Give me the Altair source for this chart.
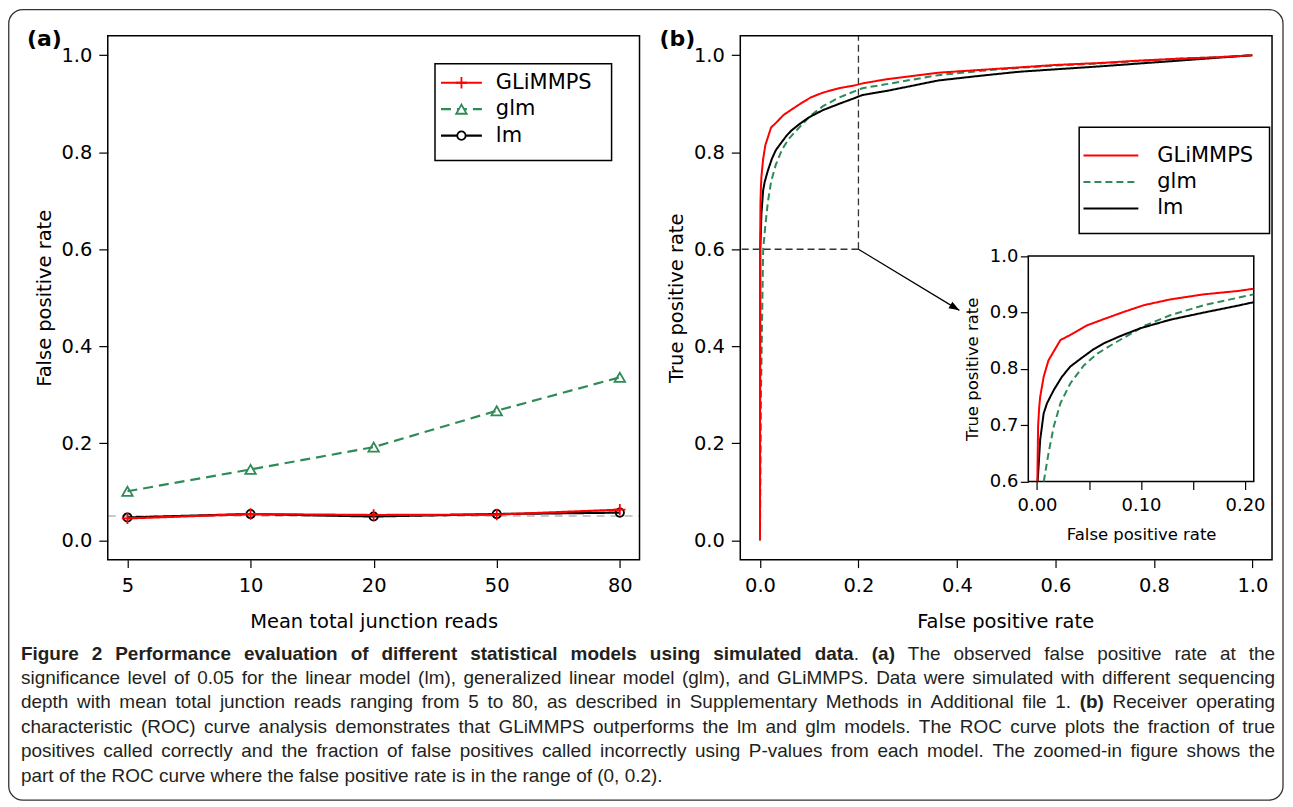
import altair as alt
import pandas as pd

# ------------------------------------------------------------------ data
reads = ["5", "10", "20", "50", "80"]
models = ["GLiMMPS", "glm", "lm"]
fpr_glimmps = [0.045, 0.054, 0.052, 0.053, 0.063]
fpr_glm = [0.101, 0.146, 0.192, 0.267, 0.336]
fpr_lm = [0.047, 0.054, 0.049, 0.054, 0.057]
significance_level = [0.05]

roc_glimmps_fpr = [0.0, 0.0, 0.0003, 0.001, 0.002, 0.003, 0.0064, 0.011, 0.0177, 0.0225,
                   0.032, 0.048, 0.064, 0.0835, 0.103, 0.128, 0.16, 0.193, 0.208, 0.26,
                   0.362, 0.45, 0.526, 0.6, 0.689, 0.77, 0.852, 0.93, 1.0]
roc_glimmps_tpr = [0.0, 0.3, 0.6, 0.697, 0.73, 0.75, 0.786, 0.815, 0.836, 0.851,
                   0.86, 0.877, 0.888, 0.901, 0.913, 0.923, 0.932, 0.938, 0.942, 0.951,
                   0.964, 0.970, 0.975, 0.980, 0.984, 0.989, 0.993, 0.996, 1.0]
roc_lm_fpr = [0.0, 0.0003, 0.0006, 0.003, 0.0064, 0.0096, 0.016, 0.024, 0.032, 0.042,
              0.0546, 0.064, 0.08, 0.0995, 0.128, 0.161, 0.193, 0.208, 0.26, 0.362,
              0.45, 0.526, 0.6, 0.689, 0.77, 0.852, 0.93, 1.0]
roc_lm_tpr = [0.0, 0.3, 0.6, 0.674, 0.721, 0.739, 0.762, 0.786, 0.804, 0.818,
              0.835, 0.845, 0.858, 0.872, 0.887, 0.9, 0.912, 0.918, 0.927, 0.948,
              0.958, 0.966, 0.971, 0.977, 0.983, 0.989, 0.995, 1.0]
roc_glm_fpr = [0.0, 0.002, 0.0065, 0.011, 0.016, 0.0225, 0.032, 0.045, 0.058, 0.074,
               0.09, 0.103, 0.128, 0.161, 0.193, 0.208, 0.26, 0.362, 0.45, 0.526,
               0.6, 0.689, 0.77, 0.852, 0.93, 1.0]
roc_glm_tpr = [0.0, 0.3, 0.6, 0.65, 0.697, 0.739, 0.774, 0.806, 0.827, 0.845,
               0.862, 0.876, 0.895, 0.913, 0.926, 0.932, 0.941, 0.959, 0.968, 0.974,
               0.979, 0.983, 0.988, 0.993, 0.996, 1.0]

zoom_fpr = [0.2]
zoom_tpr = [0.6]
arrow_fpr = [0.2, 0.405]
arrow_tpr = [0.6, 0.474]

prob_ticks = [0.0, 0.2, 0.4, 0.6, 0.8, 1.0]
inset_x_ticks = [0.0, 0.05, 0.10, 0.15, 0.20]
inset_y_ticks = [0.6, 0.7, 0.8, 0.9, 1.0]
main_domain = [-0.04, 1.04]
inset_x_domain = [-0.0084, 0.2084]
inset_y_domain = [0.6, 1.0]

# caption: (text, bold, glued-to-previous)
caption_lines = [
    [("Figure 2 Performance evaluation of different statistical models using simulated data", True, False),
     (".", False, True), ("(a)", True, False), ("The observed false positive rate at the", False, False)],
    [("significance level of 0.05 for the linear model (lm), generalized linear model (glm), and GLiMMPS. Data were simulated with different sequencing", False, False)],
    [("depth with mean total junction reads ranging from 5 to 80, as described in Supplementary Methods in Additional file 1.", False, False),
     ("(b)", True, False), ("Receiver operating", False, False)],
    [("characteristic (ROC) curve analysis demonstrates that GLiMMPS outperforms the lm and glm models. The ROC curve plots the fraction of true", False, False)],
    [("positives called correctly and the fraction of false positives called incorrectly using P-values from each model. The zoomed-in figure shows the", False, False)],
    [("part of the ROC curve where the false positive rate is in the range of (0, 0.2).", False, False)],
]
caption_justified = [True, True, True, True, True, False]

# ------------------------------------------------------------------ tables
df_a = pd.DataFrame({
    "reads": reads * 3,
    "fpr": fpr_glimmps + fpr_glm + fpr_lm,
    "model": [m for m in models for _ in reads],
})
df_sig = pd.DataFrame({"sig": significance_level})
roc_src = {"GLiMMPS": (roc_glimmps_fpr, roc_glimmps_tpr),
           "glm": (roc_glm_fpr, roc_glm_tpr),
           "lm": (roc_lm_fpr, roc_lm_tpr)}
rows = []
for m, (fs, ts) in roc_src.items():
    for i, (f, t) in enumerate(zip(fs, ts)):
        rows.append({"model": m, "fpr": f, "tpr": t, "order": i})
df_roc = pd.DataFrame(rows)
df_zoom = pd.DataFrame({"fpr": zoom_fpr, "tpr": zoom_tpr})
df_arrow = pd.DataFrame({"fpr": arrow_fpr[:1], "tpr": arrow_tpr[:1],
                         "fpr2": arrow_fpr[1:], "tpr2": arrow_tpr[1:]})
df_tip = pd.DataFrame({"fpr": arrow_fpr[1:], "tpr": arrow_tpr[1:]})
df_leg = pd.DataFrame({"model": models})
one = pd.DataFrame({"k": [0]})

# ------------------------------------------------------------------ layout / style
W, H = 1280, 796
AX0, AX1 = 100, 633
BX0, BX1 = 734, 1267
PY0, PY1 = 27, 552
IX0, IX1, IY0, IY1 = 1022.7, 1248.7, 247.7, 473.7
PF = "DejaVu Sans"
CF = "Liberation Sans"
PLUS = "M-1,0L1,0M0,-1L0,1"
ARROW = "M0,0L-2,-0.72L-2,0.72Z"
STY = {
    "GLiMMPS": dict(color="#ff0000", dash=[1, 0], shape=PLUS, size=130),
    "glm": dict(color="#2e8b57", dash=[10, 6], shape="triangle-up", size=110),
    "lm": dict(color="#000000", dash=[1, 0], shape="circle", size=70),
}


def axis(orient, offset, title, tx, ty, values=None, fmt=None, label_expr=None,
         lsize=19.5, tsize=19.5, tick=9, lpad=7, angle=0):
    kw = dict(orient=orient, offset=offset, title=title, titleX=tx, titleY=ty,
              domain=False, grid=False, ticks=True, tickSize=tick, tickWidth=1.2,
              tickColor="black", labelColor="black", labelFont=PF, labelFontSize=lsize,
              labelPadding=lpad, labelFlush=False, labelOverlap=False, labelAngle=0,
              titleFont=PF, titleFontSize=tsize, titleFontWeight="normal", titleColor="black",
              titleAlign="center", titleBaseline="middle", titleAngle=angle, zindex=1)
    if values is not None:
        kw["values"] = values
    if fmt:
        kw["format"] = fmt
    if label_expr:
        kw["labelExpr"] = label_expr
    return alt.Axis(**kw)


def box(x0, x1, y0, y1, fill=False, width=1.5, radius=0, color="black"):
    kw = dict(stroke=color, strokeWidth=width)
    if fill:
        kw["fill"] = "white"
    else:
        kw["fillOpacity"] = 0
    if radius:
        kw["cornerRadius"] = radius
    return alt.Chart(one).mark_rect(**kw).encode(
        x=alt.value(x0), x2=alt.value(x1), y=alt.value(y0), y2=alt.value(y1))


def text(s, x, y, size, font=PF, weight="normal", align="left", color="black"):
    return alt.Chart(one).mark_text(text=s, font=font, fontSize=size, fontWeight=weight,
                                    align=align, baseline="middle", color=color).encode(
        x=alt.value(x), y=alt.value(y))


# ------------------------------------------------------------------ panel (a)
xa = alt.Scale(type="point", domain=reads, range=[AX0, AX1], padding=0.16)
ya = alt.Scale(domain=main_domain, range=[PY1, PY0], nice=False, zero=False)
ax_a_x = axis("bottom", PY1 - H, "Mean total junction reads", 366.5, 61.7, tick=8, lpad=9)
ax_a_y = axis("left", -AX0, "False positive rate", 37 - AX0, (PY0 + PY1) / 2,
              values=prob_ticks, fmt=".1f", angle=270)
X_A = alt.X("reads:O", scale=xa, axis=ax_a_x, sort=reads)
Y_A = alt.Y("fpr:Q", scale=ya, axis=ax_a_y)

a_layers = [
    alt.Chart(df_sig).mark_rule(color="#b8b8b8", strokeDash=[8, 6], strokeWidth=1.6).encode(
        y=alt.Y("sig:Q", scale=ya, axis=ax_a_y), x=alt.value(AX0), x2=alt.value(AX1))
]
for m in ["lm", "glm", "GLiMMPS"]:
    s = STY[m]
    base = alt.Chart(df_a).transform_filter(alt.datum.model == m)
    a_layers.append(base.mark_line(color=s["color"], strokeWidth=2.2, strokeDash=s["dash"]).encode(
        x=X_A, y=Y_A))
    a_layers.append(base.mark_point(shape=s["shape"], size=s["size"], color=s["color"],
                                    filled=False, strokeWidth=1.8, opacity=1).encode(x=X_A, y=Y_A))
panel_a = alt.layer(*a_layers, box(AX0, AX1, PY0, PY1))

# legend (a)
yla = alt.Scale(type="point", domain=models, range=[74, 127], padding=0)
Y_LA = alt.Y("model:N", scale=yla, axis=None)
la_layers = [box(428, 605, 55, 152)]
for m in models:
    s = STY[m]
    base = alt.Chart(df_leg).transform_filter(alt.datum.model == m)
    la_layers.append(base.mark_rule(color=s["color"], strokeWidth=2.2, strokeDash=s["dash"]).encode(
        x=alt.value(434), x2=alt.value(475), y=Y_LA))
    la_layers.append(base.mark_point(shape=s["shape"], size=s["size"], color=s["color"], fill="white",
                                     filled=False, strokeWidth=1.8, opacity=1).encode(
        x=alt.value(454.5), y=Y_LA))
la_layers.append(alt.Chart(df_leg).mark_text(font=PF, fontSize=21, align="left", baseline="middle",
                                             color="black").encode(
    x=alt.value(489), y=Y_LA, text="model:N"))
legend_a = alt.layer(*la_layers)

# ------------------------------------------------------------------ panel (b)
xb = alt.Scale(domain=main_domain, range=[BX0, BX1], nice=False, zero=False)
yb = alt.Scale(domain=main_domain, range=[PY1, PY0], nice=False, zero=False)
ax_b_x = axis("bottom", PY1 - H, "False positive rate", 999.5, 61.7, values=prob_ticks,
              fmt=".1f", tick=8, lpad=9)
ax_b_y = axis("left", -BX0, "True positive rate", -64, (PY0 + PY1) / 2,
              values=prob_ticks, fmt=".1f", angle=270)
X_B = alt.X("fpr:Q", scale=xb, axis=ax_b_x)
Y_B = alt.Y("tpr:Q", scale=yb, axis=ax_b_y)

b_layers = [
    alt.Chart(df_zoom).mark_rule(color="#333333", strokeDash=[7, 4], strokeWidth=1.3).encode(
        x=X_B, y=Y_B, y2=alt.value(PY0)),
    alt.Chart(df_zoom).mark_rule(color="#333333", strokeDash=[7, 4], strokeWidth=1.3).encode(
        x=X_B, y=Y_B, x2=alt.value(BX0)),
    alt.Chart(df_arrow).mark_rule(color="black", strokeWidth=1.2).encode(
        x=X_B, y=Y_B, x2="fpr2:Q", y2="tpr2:Q"),
    alt.Chart(df_tip).mark_point(shape=ARROW, size=110, angle=31, filled=True, color="black",
                                 opacity=1).encode(x=X_B, y=Y_B),
]
for m in ["glm", "lm", "GLiMMPS"]:
    s = STY[m]
    dash = [7, 4] if m == "glm" else [1, 0]
    b_layers.append(alt.Chart(df_roc).transform_filter(alt.datum.model == m).mark_line(
        color=s["color"], strokeWidth=2, strokeDash=dash).encode(
        x=X_B, y=Y_B, order="order:Q"))
panel_b = alt.layer(*b_layers, box(BX0, BX1, PY0, PY1))

# legend (b)
ylb = alt.Scale(type="point", domain=models, range=[147, 200], padding=0)
Y_LB = alt.Y("model:N", scale=ylb, axis=None)
lb_layers = [box(1073.7, 1264.5, 118.7, 225)]
for m in models:
    s = STY[m]
    dash = [7, 4] if m == "glm" else [1, 0]
    lb_layers.append(alt.Chart(df_leg).transform_filter(alt.datum.model == m).mark_rule(
        color=s["color"], strokeWidth=2, strokeDash=dash).encode(
        x=alt.value(1078), x2=alt.value(1133), y=Y_LB))
lb_layers.append(alt.Chart(df_leg).mark_text(font=PF, fontSize=21, align="left", baseline="middle",
                                             color="black").encode(
    x=alt.value(1152), y=Y_LB, text="model:N"))
legend_b = alt.layer(*lb_layers)

# ------------------------------------------------------------------ inset
xi = alt.Scale(domain=inset_x_domain, range=[IX0, IX1], nice=False, zero=False)
yi = alt.Scale(domain=inset_y_domain, range=[IY1, IY0], nice=False, zero=False)
ax_i_x = axis("bottom", IY1 - H, "False positive rate", 1135.8, 53.3, values=inset_x_ticks,
              label_expr="(datum.value > 0.04 && datum.value < 0.06) || (datum.value > 0.14 && datum.value < 0.16) ? '' : format(datum.value, '.2f')",
              lsize=18, tsize=16.5, tick=8, lpad=7.5)
ax_i_y = axis("left", -IX0, "True positive rate", 967 - IX0, (IY0 + IY1) / 2,
              values=inset_y_ticks, fmt=".1f", lsize=18, tsize=16.5, tick=8, lpad=2.5, angle=270)
X_I = alt.X("fpr:Q", scale=xi, axis=ax_i_x)
Y_I = alt.Y("tpr:Q", scale=yi, axis=ax_i_y)
flt = f"datum.fpr <= {inset_x_domain[1]} && datum.tpr >= {inset_y_domain[0]}"
i_layers = [box(IX0, IX1, IY0, IY1, fill=True)]
for m in ["glm", "lm", "GLiMMPS"]:
    s = STY[m]
    dash = [7, 4] if m == "glm" else [1, 0]
    i_layers.append(alt.Chart(df_roc).transform_filter(alt.datum.model == m).transform_filter(flt)
                    .mark_line(color=s["color"], strokeWidth=2, strokeDash=dash)
                    .encode(x=X_I, y=Y_I, order="order:Q"))
inset = alt.layer(*i_layers)

# ------------------------------------------------------------------ caption (justified text)
_REG = dict(zip("ABCDEFGHIJKLMNOPQRSTUVWXYZ",
                [667, 667, 722, 722, 667, 611, 778, 722, 278, 500, 667, 556, 833, 722, 778, 667,
                 778, 722, 667, 611, 722, 667, 944, 667, 667, 611]))
_REG.update(zip("abcdefghijklmnopqrstuvwxyz",
                [556, 556, 500, 556, 556, 278, 556, 556, 222, 222, 500, 222, 833, 556, 556, 556,
                 556, 333, 500, 278, 556, 500, 722, 500, 500, 500]))
_REG.update({c: 556 for c in "0123456789"})
_REG.update({" ": 278, "(": 333, ")": 333, ",": 278, "-": 333, ".": 278, ":": 278})
_BLD = dict(zip("ABCDEFGHIJKLMNOPQRSTUVWXYZ",
                [722, 722, 722, 722, 667, 611, 778, 722, 278, 556, 722, 611, 833, 722, 778, 667,
                 778, 722, 667, 611, 722, 667, 944, 667, 667, 611]))
_BLD.update(zip("abcdefghijklmnopqrstuvwxyz",
                [556, 611, 556, 611, 556, 333, 611, 611, 278, 278, 556, 278, 889, 611, 611, 611,
                 611, 389, 556, 333, 611, 556, 778, 556, 556, 500]))
_BLD.update({c: 556 for c in "0123456789"})
_BLD.update({" ": 278, "(": 333, ")": 333, ",": 278, "-": 333, ".": 278, ":": 333})

CS = 19
CX0, CX1 = 13, 1270
cy = [647, 671, 695, 720, 744, 768.5]


def tw(s, bold):
    tab = _BLD if bold else _REG
    return sum(tab.get(c, 556) for c in s) * CS / 1000.0


cap_rows = []
for li, (segs, just) in enumerate(zip(caption_lines, caption_justified)):
    words = []
    for txt, bold, glue in segs:
        for k, w in enumerate(txt.split(" ")):
            words.append((w, bold, glue and k == 0))
    space = _REG[" "] * CS / 1000.0
    natural = sum(tw(w, b) for w, b, _ in words) + space * sum(1 for i, (w, b, g) in enumerate(words) if i > 0 and not g)
    gaps = sum(1 for i, (w, b, g) in enumerate(words) if i > 0 and not g)
    extra = (CX1 - CX0 - natural) / gaps if (just and gaps) else 0.0
    x = CX0
    for i, (w, b, g) in enumerate(words):
        if i > 0 and not g:
            x += space + extra
        cap_rows.append({"word": w, "bold": b, "px": x, "py": cy[li]})
        x += tw(w, b)
df_cap = pd.DataFrame(cap_rows)
PXS = alt.Scale(domain=[0, W], range=[0, W], nice=False, zero=False)
PYS = alt.Scale(domain=[0, H], range=[0, H], nice=False, zero=False)
caption = alt.layer(
    alt.Chart(df_cap).transform_filter("!datum.bold").mark_text(
        font=CF, fontSize=CS, align="left", baseline="middle", color="#231f20").encode(
        x=alt.X("px:Q", scale=PXS, axis=None), y=alt.Y("py:Q", scale=PYS, axis=None), text="word:N"),
    alt.Chart(df_cap).transform_filter("datum.bold").mark_text(
        font=CF, fontSize=CS, fontWeight="bold", align="left", baseline="middle", color="#231f20").encode(
        x=alt.X("px:Q", scale=PXS, axis=None), y=alt.Y("py:Q", scale=PYS, axis=None), text="word:N"),
)

labels = [
    text("(a)", 19, 30, 22, PF, "bold"),
    text("(b)", 653, 30, 22, PF, "bold"),
]
border = box(0.75, 1278, 0.75, 793, width=1.3, radius=14, color="#333333")

chart = alt.layer(
    border, panel_a, legend_a, panel_b, legend_b, inset, caption, *labels
).resolve_scale(
    x="independent", y="independent"
).properties(
    width=W, height=H, padding=0, autosize=alt.AutoSizeParams(type="none")
).configure_view(stroke=None)

chart.save("out.html", embed_options={"renderer": "svg", "actions": False})
